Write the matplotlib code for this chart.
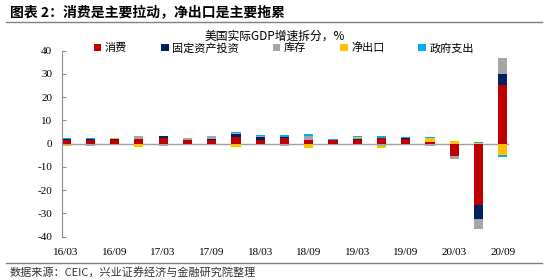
import numpy as np
import matplotlib
matplotlib.use('Agg')
import matplotlib.pyplot as plt
from matplotlib.lines import Line2D

plt.rcParams['font.family'] = ['Liberation Serif', 'Noto Sans CJK SC']
plt.rcParams['axes.unicode_minus'] = False

CJK = ['Noto Sans CJK SC', 'DejaVu Sans']

# 数据：美国实际GDP增速拆分（%，季度环比折年）
quarters = ['16/03', '16/06', '16/09', '16/12', '17/03', '17/06', '17/09', '17/12',
            '18/03', '18/06', '18/09', '18/12', '19/03', '19/06', '19/09', '19/12',
            '20/03', '20/06', '20/09']
consumption = [1.7, 1.8, 1.6, 1.9, 2.3, 1.4, 1.7, 2.9, 1.4, 2.6, 1.7, 1.4, 1.7, 2.3, 2.1, 0.9, -5.2, -26.5, 25.2]
fixed_inv = [0.3, 0.2, 0.5, 0.2, 0.9, 0.3, 0.2, 1.4, 1.3, 0.3, 0.1, 0.2, 0.3, -0.2, 0.3, -0.1, -0.2, -5.8, 4.7]
inventory = [-0.7, -1.0, 0.1, 1.2, -0.8, 0.7, 1.2, 0.2, 0.6, -1.0, 1.6, 0.1, 0.5, -0.9, -0.1, -1.0, -1.3, -4.4, 6.8]
net_export = [-0.1, 0.2, 0.1, -1.3, 0.1, -0.1, 0.1, -1.3, 0.1, 0.1, -2.0, 0.1, 0.4, -0.7, -0.1, 1.5, 1.0, 0.3, -4.8]
government = [0.6, 0.1, 0.3, 0.1, 0.2, 0.1, 0.1, 0.7, 0.3, 0.9, 0.7, 0.1, 0.3, 0.8, 0.3, 0.4, 0.1, 0.6, -0.8]

series = [
    ('消费', consumption, '#C00000'),
    ('固定资产投资', fixed_inv, '#002060'),
    ('库存', inventory, '#A6A6A6'),
    ('净出口', net_export, '#FFC000'),
    ('政府支出', government, '#00B0F0'),
]
tick_labels = quarters[::2]

fig = plt.figure(figsize=(5.5, 2.8), dpi=100)
ax = fig.add_axes([0.1127, 0.1546, 0.8146, 0.6644])

x = np.arange(len(quarters))
pos_base = np.zeros(len(quarters))
neg_base = np.zeros(len(quarters))
handles = []
for name, vals, color in series:
    v = np.array(vals)
    bottom = np.where(v >= 0, pos_base, neg_base)
    b = ax.bar(x, v, width=0.38, bottom=bottom, color=color, label=name, zorder=2)
    handles.append(b)
    pos_base += np.where(v >= 0, v, 0)
    neg_base += np.where(v < 0, v, 0)

ax.set_xlim(-0.17, 18.3)
ax.set_ylim(-40, 40)
ax.axhline(0, xmin=0, xmax=(18.2 + 0.17) / 18.47, color='#A0A0A0', lw=1.0, zorder=1)

ax.set_yticks(np.arange(-40, 41, 10))
ax.set_xticks(x[::2])
ax.set_xticklabels(tick_labels)
ax.tick_params(axis='y', direction='in', length=3, pad=7, labelsize=8, color='#909090')
ax.tick_params(axis='x', length=0, pad=8, labelsize=8)
for s in ['top', 'right', 'bottom']:
    ax.spines[s].set_visible(False)
ax.spines['left'].set_color('#909090')

leg = fig.legend(handles=handles, loc='center', bbox_to_anchor=(0.516, 1 - 48 / 280), ncol=5,
                 frameon=False, handlelength=0.7, handleheight=0.7, handletextpad=0.3,
                 columnspacing=3.05, prop={'family': CJK, 'size': 8})

fig.text(0.5, 1 - 36 / 280, '美国实际GDP增速拆分，%', ha='center', va='center',
         fontsize=8.5, family=CJK)
fig.text(0.018, 1 - 12 / 280, '图表 2：消费是主要拉动，净出口是主要拖累', ha='left', va='center',
         fontsize=10, fontweight='bold', family=CJK)
fig.text(0.018, 1 - 272 / 280, '数据来源：CEIC，兴业证券经济与金融研究院整理', ha='left', va='center',
         fontsize=8, family=CJK, color='#333333')

fig.add_artist(Line2D([0.01, 0.985], [1 - 22 / 280] * 2, transform=fig.transFigure,
                      color='#808080', lw=1.0))
fig.add_artist(Line2D([0.01, 0.985], [1 - 263 / 280] * 2, transform=fig.transFigure,
                      color='#808080', lw=1.0))

fig.savefig('out.png', dpi=100, facecolor='white')
